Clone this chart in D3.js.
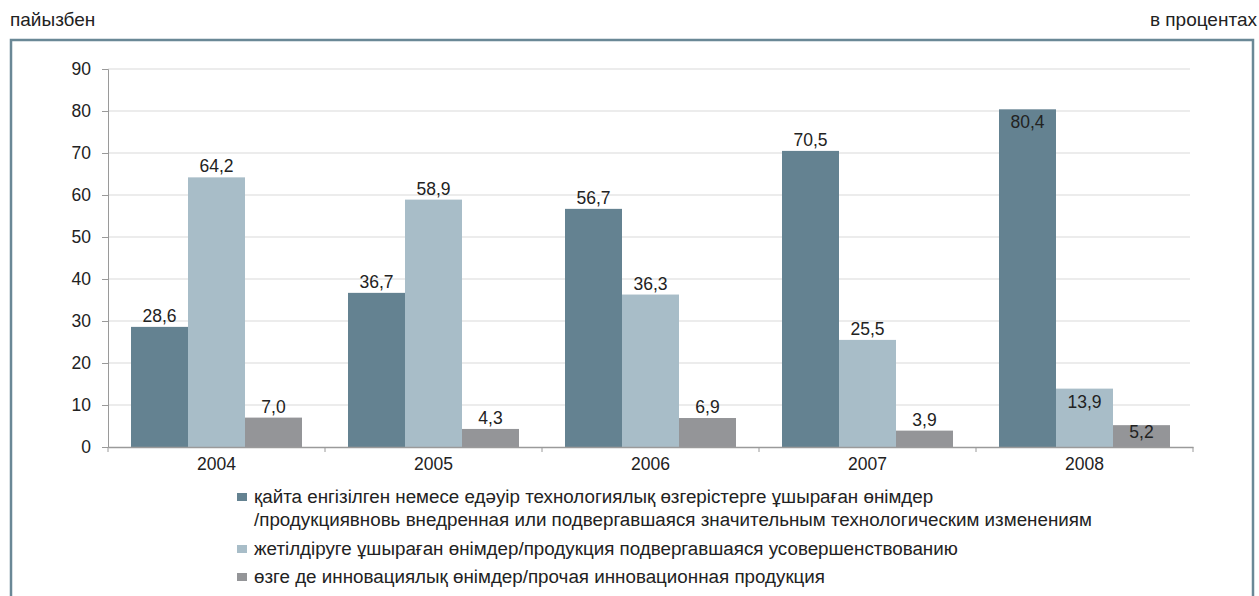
<!DOCTYPE html>
<html>
<head>
<meta charset="utf-8">
<script src="https://cdn.jsdelivr.net/npm/d3@7/dist/d3.min.js"></script>
<style>
  html, body { margin: 0; padding: 0; background: #fff; }
  svg { display: block; font-family: "Liberation Sans", Arial, sans-serif; }
</style>
</head>
<body>
<svg id="chart" width="1259" height="596"></svg>
<script>
// Years on the category axis
const years = ["2004", "2005", "2006", "2007", "2008"];

// Share of each product type, percent
const newProducts = [28.6, 36.7, 56.7, 70.5, 80.4];
const improvedProducts = [64.2, 58.9, 36.3, 25.5, 13.9];
const otherProducts = [7.0, 4.3, 6.9, 3.9, 5.2];

// Y axis ticks
const yTicks = [0, 10, 20, 30, 40, 50, 60, 70, 80, 90];

// Legend entries (first one wraps onto two lines)
const seriesNames = [
  ["қайта енгізілген немесе едәуір технологиялық өзгерістерге ұшыраған өнімдер",
   "/продукциявновь внедренная или подвергавшаяся значительным технологическим изменениям"],
  ["жетілдіруге ұшыраған өнімдер/продукция подвергавшаяся усовершенствованию"],
  ["өзге де инновациялық өнімдер/прочая инновационная продукция"]
];

const series = [newProducts, improvedProducts, otherProducts];
const colors = ["#648291", "#a8bdc8", "#949598"];
// Years whose value labels sit inside the bar tops
const insideLabelYears = ["2008"];

const numFont = 17.5;
const textFont = 18.8;

const svg = d3.select("#chart");
const fmt = v => d3.format(".1f")(v).replace(".", ",");

// Headers
svg.append("text").attr("x", 10).attr("y", 26)
  .attr("font-size", 19).attr("fill", "#222").text("пайызбен");
svg.append("text").attr("x", 1257).attr("y", 26).attr("text-anchor", "end")
  .attr("font-size", 19).attr("fill", "#222").text("в процентах");

// Frame (open at the bottom)
svg.append("path")
  .attr("d", "M11,600 L11,40 L1253,40 L1253,600")
  .attr("fill", "none").attr("stroke", "#6a8896").attr("stroke-width", 2.5);

const plot = { left: 108, right: 1193, top: 69, bottom: 447 };

const x = d3.scaleBand().domain(years).range([plot.left, plot.right]).paddingInner(0).paddingOuter(0);
const barW = 57;
const groupW = barW * series.length;
const y = d3.scaleLinear().domain([0, 90]).range([plot.bottom, plot.top]);

// Gridlines
svg.append("g").selectAll("line").data(yTicks.filter(t => t > 0)).join("line")
  .attr("x1", plot.left).attr("x2", 1190)
  .attr("y1", d => y(d)).attr("y2", d => y(d))
  .attr("stroke", "#d9d9d9").attr("stroke-width", 1.2);

// Y axis
const yAxis = svg.append("g").attr("transform", `translate(${plot.left},0)`)
  .call(d3.axisLeft(y).tickValues(yTicks).tickSize(6).tickPadding(11));
yAxis.select(".domain").attr("stroke", "#9a9a9a");
yAxis.selectAll(".tick line").attr("stroke", "#9a9a9a");
yAxis.selectAll(".tick text").attr("font-size", numFont).attr("fill", "#222")
  .attr("font-family", "Liberation Sans, Arial, sans-serif");

// Bars and value labels
series.forEach((vals, si) => {
  const bx = d => x(d) + (x.bandwidth() - groupW) / 2 + si * barW;
  svg.append("g").selectAll("rect").data(years).join("rect")
    .attr("x", bx)
    .attr("width", barW)
    .attr("y", (d, i) => y(vals[i]))
    .attr("height", (d, i) => y(0) - y(vals[i]))
    .attr("fill", colors[si]);

  svg.append("g").selectAll("text").data(years).join("text")
    .attr("x", d => bx(d) + barW / 2)
    .attr("y", (d, i) => insideLabelYears.includes(d)
      ? Math.min(y(vals[i]) + 19, y(0) - 9)
      : y(vals[i]) - 5)
    .attr("text-anchor", "middle")
    .attr("font-size", numFont).attr("fill", "#222")
    .text((d, i) => fmt(vals[i]));
});

// X axis
const xAxis = svg.append("g").attr("transform", `translate(0,${plot.bottom})`)
  .call(d3.axisBottom(x).tickSize(0).tickPadding(0));
xAxis.select(".domain").attr("stroke", "#9a9a9a").attr("stroke-width", 1.5);
xAxis.selectAll(".tick text").attr("font-size", numFont).attr("fill", "#222")
  .attr("dy", null).attr("y", 23)
  .attr("font-family", "Liberation Sans, Arial, sans-serif");
// Category boundary ticks
const bounds = years.map(d => x(d)).concat([plot.right]);
svg.append("g").selectAll("line").data(bounds).join("line")
  .attr("x1", d => d).attr("x2", d => d)
  .attr("y1", plot.bottom).attr("y2", plot.bottom + 5)
  .attr("stroke", "#9a9a9a");

// Legend
const legendRows = [503, 555, 583];
seriesNames.forEach((lines, i) => {
  const g = svg.append("g");
  g.append("rect").attr("x", 237).attr("y", legendRows[i] - 10)
    .attr("width", 10).attr("height", 8).attr("fill", colors[i]);
  lines.forEach((ln, j) => {
    g.append("text").attr("x", 254).attr("y", legendRows[i] + j * 23)
      .attr("font-size", textFont).attr("fill", "#222").text(ln);
  });
});
</script>
</body>
</html>
